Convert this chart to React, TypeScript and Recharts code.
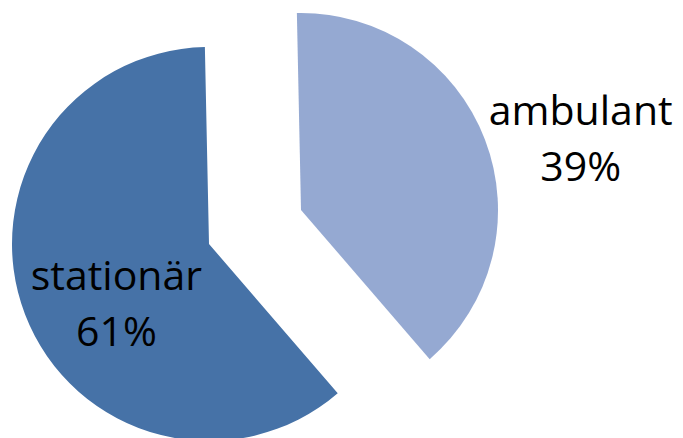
import { PieChart, Pie, Cell } from 'recharts';

const CATEGORIES = ['ambulant', 'stationär'];
const SHARES = [39, 61];
const COLORS = ['#95A9D2', '#4672A7'];

const data = CATEGORIES.map((name, i) => ({ name, value: SHARES[i] }));

// each slice is drawn by its own Pie so it can be pulled out of the centre
const CENTERS = [
  { cx: 301, cy: 210 },
  { cx: 209, cy: 244 },
];

// label placement relative to the slice's own centre, in units of the radius
const LABEL_POS = [
  { dx: 1.42, dy: -0.43 },
  { dx: -0.47, dy: 0.235 },
];

const FONT = '"Open Sans", sans-serif';

const makeLabel = (visible: number) => (props: any) => {
  const { cx, cy, outerRadius, percent, name, index } = props;
  if (index !== visible) return null;
  const pos = LABEL_POS[index];
  const x = cx + outerRadius * pos.dx;
  const y = cy + outerRadius * pos.dy;
  return (
    <text x={x} y={y} textAnchor="middle" fill="#000" fontFamily={FONT} fontSize={41}>
      <tspan x={x} dy={0}>{name}</tspan>
      <tspan x={x} dy={56}>{`${Math.round(percent * 100)}%`}</tspan>
    </text>
  );
};

export default function App() {
  return (
    <div style={{ position: 'absolute', left: 0, top: 0 }}>
      <PieChart width={683} height={438} margin={{ top: 0, right: 0, bottom: 0, left: 0 }}>
        {CENTERS.map((c, visible) => (
          <Pie
            key={visible}
            data={data}
            dataKey="value"
            nameKey="name"
            cx={c.cx}
            cy={c.cy}
            outerRadius={197}
            startAngle={91.2}
            endAngle={-268.8}
            stroke="none"
            label={makeLabel(visible)}
            labelLine={false}
            isAnimationActive={false}
          >
            {data.map((entry, i) => (
              <Cell key={entry.name} fill={i === visible ? COLORS[i] : 'none'} />
            ))}
          </Pie>
        ))}
      </PieChart>
    </div>
  );
}
